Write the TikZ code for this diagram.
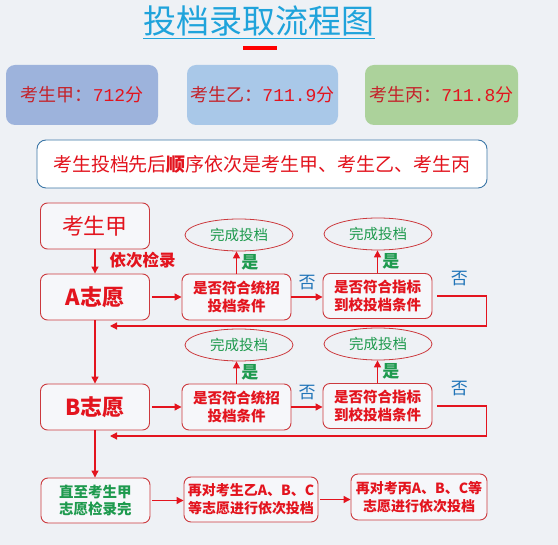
\documentclass[tikz,border=0pt]{standalone}
\usepackage{fontspec}
\setmainfont{Noto Sans CJK SC}
\newfontfamily\numfont{Liberation Mono}
\usepackage{tikz}
\usetikzlibrary{arrows.meta}
\usetikzlibrary{shapes}
\definecolor{boxred}{HTML}{CC3A3E}
\definecolor{txtred}{HTML}{E3141E}
\definecolor{darkred}{HTML}{C4232B}
\definecolor{okgreen}{HTML}{1E9A4E}
\definecolor{noblue}{HTML}{1F74B8}
\definecolor{titleblue}{HTML}{1FA3DB}
\definecolor{bgcol}{HTML}{EEF1F5}
\definecolor{scoreA}{HTML}{9DB3DC}
\definecolor{scoreB}{HTML}{A9C8E8}
\definecolor{scoreC}{HTML}{ACD29B}

\begin{document}
\begin{tikzpicture}[x=1pt,y=-1pt,
    flowbox/.style={draw=boxred,line width=0.9pt,rounded corners=7pt,fill=white!45!bgcol,
      minimum width=109pt,minimum height=46pt,align=center,text=txtred,
      font=\bfseries\fontsize{14.5}{17.5}\selectfont},
    scorebox/.style={rounded corners=9pt,minimum width=152pt,minimum height=60pt,
      text=darkred,font=\fontsize{18}{20}\selectfont},
    donebox/.style={ellipse,draw=boxred,line width=0.8pt,minimum width=108pt,minimum height=32pt,
      inner sep=0pt,text=okgreen,font=\fontsize{14.5}{16}\selectfont},
    flow/.style={draw=txtred,line width=1.2pt,-{Triangle[length=7pt,width=7pt]}},
    yes/.style={text=okgreen,font=\bfseries\fontsize{17}{17}\selectfont},
    no/.style={text=noblue,font=\fontsize{17}{17}\selectfont}]
  % the page
  \fill[bgcol] (0,0) rectangle (558,545);
  \useasboundingbox (0,0) rectangle (558,545);

  %% the title
  \node[inner sep=0pt,text=titleblue,font=\fontsize{33}{36}\selectfont] (title) at (259,21) {投档录取流程图};
  \draw[titleblue,line width=1.4pt] ([yshift=-2pt]title.south west) -- ([yshift=-2pt]title.south east);
  \fill[red] (243,46) rectangle (277,50);

  %% the three scores
  \node[scorebox,fill=scoreA] (jiaScore) at (82,95) {考生甲：{\color{txtred}\numfont 712}{\color{txtred}分}};
  \node[scorebox,fill=scoreB,minimum width=151pt] (yiScore) at (262.5,95) {考生乙：{\color{txtred}\numfont 711.9}{\color{txtred}分}};
  \node[scorebox,fill=scoreC,minimum width=153pt] (bingScore) at (441.5,95) {考生丙：{\color{txtred}\numfont 711.8}{\color{txtred}分}};

  %% the order
  \node[draw=noblue!70!gray,line width=0.9pt,fill=white,rounded corners=9pt,minimum width=450pt,
    minimum height=48pt,text=txtred,font=\fontsize{19}{22}\selectfont] (order) at (262,164)
    {考生投档先后\textbf{顺}序依次是考生甲、考生乙、考生丙};

  %% the flow
  \node[flowbox,font=\fontsize{22}{24}\selectfont] (jia) at (95,226) {考生甲};
  \node[anchor=west,text=txtred,font=\bfseries\fontsize{16.5}{18}\selectfont] (order label) at (106,260) {依次检录};
  \foreach \r/\y/\lab in {a/297/A,b/407/B}
  {
    \node[flowbox,font=\bfseries\fontsize{22}{24}\selectfont] (vol\r) at (95,\y) {\lab 志愿};
    \node[flowbox] (tz\r) at (236.5,\y) {是否符合统招\\投档条件};
    \node[flowbox,minimum height=45pt] (zb\r) at (377.5,\y-1) {是否符合指标\\到校投档条件};
    \node[donebox] (doneA\r) at (239,\y-62) {完成投档};
    \node[donebox] (doneB\r) at (378,\y-63) {完成投档};
    \coordinate (back\r) at (110,\y+29);
    \draw[flow] (tz\r.north) -- (tz\r.north |- doneA\r.south) node[yes,midway,right=1pt] {是};
    \draw[flow] (zb\r.north) -- (zb\r.north |- doneB\r.south) node[yes,midway,right=1pt] {是};
    \draw[flow,shorten <=2pt] (vol\r.east) -- (tz\r.west);
    \draw[flow] (tz\r.east) -- (tz\r.east -| zb\r.west) node[no,midway,above=3pt] {否};
    \draw[flow,shorten <=5pt] (zb\r.east) -- ++(54,0)
      node[no,above=6pt,pos=0.5] {否} |- (back\r);
  }
  \node[flowbox,text=okgreen,minimum height=45pt] (done) at (95.5,500.5) {直至考生甲\\志愿检录完};
  \node[flowbox,minimum width=134pt,minimum height=45pt,font=\bfseries\fontsize{14}{17.5}\selectfont] (yi) at (251,499.5) {再对考生乙A、B、C\\等志愿进行依次投档};
  \node[flowbox,minimum width=136pt,font=\bfseries\fontsize{14}{17.5}\selectfont] (bing) at (419,497) {再对考丙A、B、C等\\志愿进行依次投档};

  % down the left side
  \draw[flow] (jia) -- (vola);
  \draw[flow] (vola) -- (volb);
  \draw[flow] (volb) -- (done.north -| volb.south);
  \draw[flow,shorten <=2pt] (done.east) -- (yi.west |- done.east);
  \draw[flow,shorten <=2pt] (yi.east) -- (yi.east -| bing.west);
\end{tikzpicture}
\end{document}
